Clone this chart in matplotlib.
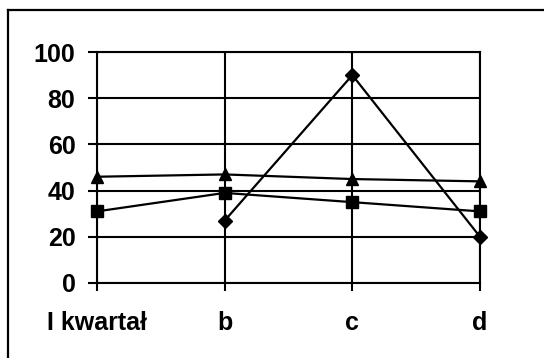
import numpy as np
import matplotlib
matplotlib.use("Agg")
import matplotlib.pyplot as plt

# categories and series
categories = ["I kwartał", "b", "c", "d"]
series_triangle = [46, 47, 45, 44]
series_square = [31, 39, 35, 31]
series_diamond = [np.nan, 27, 90, 20]
y_ticks = [0, 20, 40, 60, 80, 100]

plt.rcParams['font.family'] = ['Liberation Sans', 'DejaVu Sans']

fig = plt.figure(figsize=(5.44, 3.58), dpi=100)

# outer chart frame (only top and left are inside the picture)
fig.add_artist(plt.Line2D([8 / 544, 8 / 544], [0, 1 - 10 / 358], color="black", lw=1.6))
fig.add_artist(plt.Line2D([8 / 544, 1], [1 - 10 / 358, 1 - 10 / 358], color="black", lw=1.6))

ax = fig.add_axes([97 / 544, 1 - 283 / 358, (480 - 97) / 544, (283 - 52) / 358])

x = np.arange(len(categories))
ax.plot(x, series_triangle, color="black", lw=1.6, marker="^", markersize=9, clip_on=False, zorder=5)
ax.plot(x, series_square, color="black", lw=1.6, marker="s", markersize=8.5, clip_on=False, zorder=5)
ax.plot(x, series_diamond, color="black", lw=1.6, marker="D", markersize=7.5, clip_on=False, zorder=5)

ax.set_xlim(0, len(categories) - 1)
ax.set_ylim(0, 100)
ax.set_xticks(x)
ax.set_xticklabels(categories)
ax.set_yticks(y_ticks)

ax.grid(True, color="black", lw=1.5)
ax.set_axisbelow(True)
for s in ax.spines.values():
    s.set_color("black")
    s.set_linewidth(1.5)

ax.tick_params(axis="y", direction="out", length=6.5, width=1.5, pad=9, labelsize=18)
ax.tick_params(axis="x", direction="out", length=5.5, width=1.5, pad=15, labelsize=18)
for lab in ax.get_xticklabels() + ax.get_yticklabels():
    lab.set_fontweight("bold")

fig.savefig("out.png", dpi=100)
